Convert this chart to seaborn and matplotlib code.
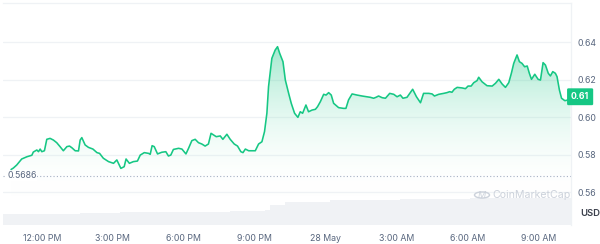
import numpy as np
import pandas as pd
import matplotlib
matplotlib.use("Agg")
import matplotlib.pyplot as plt
from matplotlib.colors import LinearSegmentedColormap
from matplotlib.patches import Circle
import seaborn as sns

# ---------------- data ----------------
# hours since 00:00 on 27 May
price_hours = [10.70, 10.80, 10.94, 11.15, 11.37, 11.58, 11.64, 11.79, 11.86, 11.93, 12.00, 12.11,
               12.21, 12.35, 12.49, 12.63, 12.77, 12.91, 13.06, 13.17, 13.27, 13.41, 13.55, 13.62,
               13.69, 13.83, 13.97, 14.16, 14.33, 14.44, 14.60, 14.82, 15.03, 15.17, 15.34, 15.48,
               15.56, 15.70, 15.87, 16.04, 16.16, 16.33, 16.51, 16.58, 16.66, 16.75, 16.89, 17.07,
               17.24, 17.35, 17.45, 17.56, 17.78, 17.92, 18.09, 18.20, 18.34, 18.48, 18.62, 18.76,
               18.90, 19.04, 19.15, 19.26, 19.37, 19.54, 19.65, 19.82, 19.96, 20.13, 20.27, 20.41,
               20.50, 20.60, 20.74, 21.02, 21.16, 21.30, 21.41, 21.51, 21.58, 21.72, 21.86, 21.96,
               22.05, 22.19, 22.29, 22.43, 22.54, 22.68, 22.82, 22.92, 23.02, 23.16, 23.27, 23.42,
               23.56, 23.65, 23.77, 23.91, 24.01, 24.12, 24.23, 24.33, 24.54, 24.75, 24.85, 24.96,
               25.11, 25.32, 25.53, 25.74, 25.88, 26.02, 26.12, 26.23, 26.38, 26.52, 26.70, 26.87,
               27.01, 27.15, 27.26, 27.43, 27.67, 27.83, 28.00, 28.13, 28.35, 28.49, 28.59, 28.77,
               28.98, 29.12, 29.23, 29.33, 29.43, 29.55, 29.76, 29.90, 30.01, 30.14, 30.25, 30.39,
               30.46, 30.60, 30.81, 31.03, 31.17, 31.31, 31.45, 31.59, 31.73, 31.84, 31.94, 32.08,
               32.18, 32.29, 32.40, 32.51, 32.60, 32.69, 32.83, 32.97, 33.07, 33.18, 33.28, 33.40,
               33.49, 33.59, 33.70, 33.77, 33.87, 33.96, 34.10, 34.24, 34.34]
price_values = [0.5720, 0.5728, 0.5744, 0.5776, 0.5788, 0.5796, 0.5813, 0.5824, 0.5815, 0.5829, 0.5815, 0.5820,
                0.5881, 0.5886, 0.5877, 0.5863, 0.5842, 0.5820, 0.5842, 0.5845, 0.5836, 0.5820, 0.5819, 0.5877,
                0.5890, 0.5851, 0.5838, 0.5829, 0.5810, 0.5806, 0.5780, 0.5762, 0.5753, 0.5771, 0.5726, 0.5735,
                0.5776, 0.5753, 0.5762, 0.5765, 0.5797, 0.5810, 0.5806, 0.5801, 0.5847, 0.5842, 0.5803, 0.5812,
                0.5815, 0.5792, 0.5797, 0.5827, 0.5833, 0.5829, 0.5803, 0.5833, 0.5874, 0.5881, 0.5863, 0.5856,
                0.5845, 0.5856, 0.5913, 0.5904, 0.5895, 0.5899, 0.5881, 0.5908, 0.5881, 0.5856, 0.5845, 0.5815,
                0.5810, 0.5829, 0.5820, 0.5820, 0.5856, 0.5868, 0.5922, 0.6020, 0.6162, 0.6313, 0.6357, 0.6375,
                0.6340, 0.6295, 0.6197, 0.6126, 0.6073, 0.6020, 0.5998, 0.6028, 0.6020, 0.6064, 0.6028, 0.6037,
                0.6041, 0.6055, 0.6082, 0.6121, 0.6117, 0.6130, 0.6117, 0.6073, 0.6050, 0.6046, 0.6046, 0.6091,
                0.6123, 0.6117, 0.6112, 0.6108, 0.6105, 0.6100, 0.6105, 0.6112, 0.6103, 0.6100, 0.6126, 0.6121,
                0.6108, 0.6117, 0.6100, 0.6105, 0.6148, 0.6108, 0.6076, 0.6126, 0.6126, 0.6123, 0.6112, 0.6121,
                0.6126, 0.6130, 0.6135, 0.6132, 0.6148, 0.6158, 0.6155, 0.6151, 0.6165, 0.6165, 0.6183, 0.6194,
                0.6212, 0.6188, 0.6167, 0.6165, 0.6180, 0.6201, 0.6176, 0.6158, 0.6183, 0.6233, 0.6286, 0.6331,
                0.6295, 0.6286, 0.6268, 0.6272, 0.6233, 0.6201, 0.6228, 0.6201, 0.6197, 0.6290, 0.6277, 0.6233,
                0.6219, 0.6242, 0.6233, 0.6215, 0.6144, 0.6100, 0.6087, 0.6091, 0.6108]

volume_hours = [10.36, 13.62, 15.31, 18.69, 19.96, 21.44, 21.65, 22.29, 22.92, 24.19, 27.15, 30.11, 34.38]
volume_values = [21.0, 24.0, 25.0, 26.0, 28.6, 30.0, 40.0, 46.0, 46.6, 50.0, 52.0, 53.0, 53.0]

open_price = 0.5686
open_label = "0.5686"
last_label = "0.61"
y_ticks = [0.56, 0.58, 0.60, 0.62, 0.64]
y_tick_labels = ["0.56", "0.58", "0.60", "0.62", "0.64"]
x_ticks = [12, 15, 18, 21, 24, 27, 30, 33]
x_tick_labels = ["12:00 PM", "3:00 PM", "6:00 PM", "9:00 PM", "28 May", "3:00 AM", "6:00 AM", "9:00 AM"]
currency = "USD"
watermark = "CoinMarketCap"

# ---------------- style ----------------
sns.set_style("white")
plt.rcParams["font.family"] = ["Inter", "DejaVu Sans"]

GREEN = "#16c784"
GRID = "#eff2f5"
TXT = "#58667e"

fig = plt.figure(figsize=(6.0, 2.44), dpi=100)
ax = fig.add_axes([3 / 600, 1 - 225 / 244, 568 / 600, 222 / 244])

x0, x1 = 10.36, 34.36
y0, y1 = 0.5424, 0.6608
ax.set_xlim(x0, x1)
ax.set_ylim(y0, y1)

df = pd.DataFrame({"hour": price_hours, "price": price_values})

# grid
for t in y_ticks:
    ax.axhline(t, color=GRID, lw=0.9, zorder=0)

# gradient fill under line
poly = ax.fill_between(df["hour"], df["price"], y0, color="none", lw=0)
cmap = LinearSegmentedColormap.from_list("g", [(1, 1, 1, 0), (22 / 255, 199 / 255, 132 / 255, 0.42)])
grad = np.linspace(0, 1, 256).reshape(-1, 1)
grad = np.clip((grad - 0.15) / 0.85, 0, 1)
im = ax.imshow(grad, cmap=cmap, aspect="auto", origin="lower",
               extent=[x0, x1, y0, 0.64], zorder=1, interpolation="bicubic")
path = poly.get_paths()[0]
im.set_clip_path(path, transform=ax.transData)

# volume (secondary axis)
axv = ax.twinx()
axv.set_ylim(0, 222 * 2)
axv.fill_between(volume_hours, volume_values, 0, step="post", color="#f0f2f5", lw=0, zorder=1)
axv.set_yticks([])
for s in axv.spines.values():
    s.set_visible(False)
ax.set_zorder(axv.get_zorder() + 1)
ax.patch.set_visible(False)

# price line
sns.lineplot(data=df, x="hour", y="price", ax=ax, color=GREEN, lw=1.15, zorder=3)

# open price dotted line
ax.axhline(open_price, color="#a6b0c3", lw=0.8, ls=(0, (1, 2)), zorder=2)
ax.text(x0 + 0.17, open_price, open_label, fontsize=6.3, color=TXT, va="center", ha="left",
        zorder=4, bbox=dict(facecolor="white", edgecolor="none", pad=0.6))

# axes styling
ax.yaxis.tick_right()
ax.set_yticks(y_ticks)
ax.set_yticklabels(y_tick_labels)
ax.set_xticks(x_ticks)
ax.set_xticklabels(x_tick_labels)
ax.tick_params(axis="y", length=0, pad=4.5, labelsize=6.3, labelcolor=TXT)
ax.tick_params(axis="x", length=0, pad=6.5, labelsize=6.3, labelcolor=TXT)
ax.set_xlabel("")
ax.set_ylabel("")
for side in ["left", "bottom"]:
    ax.spines[side].set_visible(False)
for side in ["top", "right"]:
    ax.spines[side].set_color(GRID)
    ax.spines[side].set_linewidth(0.9)

# last price tag
ax.text(1.0, price_values[-1], last_label, transform=ax.get_yaxis_transform(),
        fontsize=6.3, color="white", fontweight="bold", va="center", ha="left", zorder=5,
        bbox=dict(boxstyle="round,pad=0.45,rounding_size=0.15", facecolor=GREEN, edgecolor="none"),
        clip_on=False)

# currency label
fig.text(580 / 600, 1 - 213 / 244, currency, fontsize=6.8, color="#3a3f4b",
         fontweight="semibold", va="center", ha="left")

# watermark
fig.patches.append(Circle((482 / 600, 1 - 195 / 244), 0.0125, transform=fig.transFigure,
                          facecolor="none", edgecolor="#ccd2db", lw=1.0))
fig.text(482 / 600, 1 - 195 / 244, "M", fontsize=6.5, color="#ccd2db", ha="center", va="center",
         style="italic")
fig.text(492 / 600, 1 - 195 / 244, watermark, fontsize=7.6, color="#ccd2db", ha="left", va="center")

fig.savefig("out.png", dpi=100)
